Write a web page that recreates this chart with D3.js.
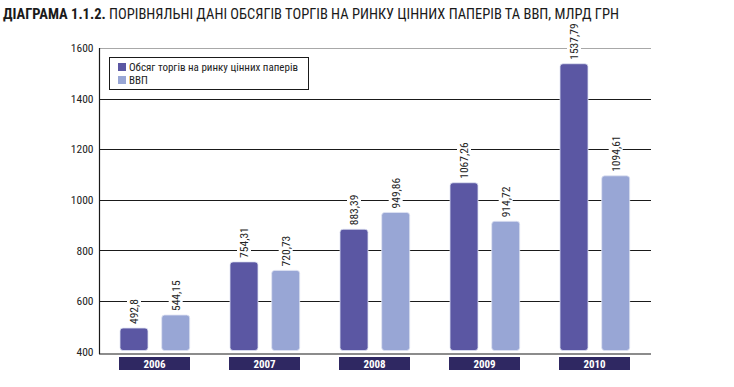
<!DOCTYPE html>
<html><head><meta charset="utf-8">
<script src="https://cdn.jsdelivr.net/npm/d3@7"></script>
<style>body{margin:0;background:#fff}svg{display:block}</style>
</head><body>
<svg id="c" width="734" height="387"></svg>
<script>
const years = ["2006","2007","2008","2009","2010"];
const seriesNames = ["Обсяг торгів на ринку цінних паперів","ВВП"];
const trading = [492.8, 754.31, 883.39, 1067.26, 1537.79];
const gdp = [544.15, 720.73, 949.86, 914.72, 1094.61];
const tradingLabels = ["492,8","754,31","883,39","1067,26","1537,79"];
const gdpLabels = ["544,15","720,73","949,86","914,72","1094,61"];
const yTicks = [400,600,800,1000,1200,1400,1600];
const colors = ["#5b57a3","#98a6d5"];
const FONT = "'Liberation Sans Narrow','Roboto Condensed','Liberation Sans',Arial,sans-serif";

const svg = d3.select("#c");
const y = d3.scaleLinear().domain([400,1600]).range([351.5,48]);
const x0 = d3.scaleBand().domain(years).range([100,650]).paddingInner(0).paddingOuter(0);
// group layout: each 110 wide, bars at offset 20 & 62, width 28
const barW = 28;
const offs = [20, 61.7];

// title
const t = svg.append("text").attr("x",3).attr("y",19).attr("font-family",FONT).attr("font-size",14.5).attr("fill","#1a1a1a");
t.append("tspan").attr("font-weight","bold").text("ДІАГРАМА 1.1.2. ");
t.append("tspan").text("ПОРІВНЯЛЬНІ ДАНІ ОБСЯГІВ ТОРГІВ НА РИНКУ ЦІННИХ ПАПЕРІВ ТА ВВП, МЛРД ГРН");

// gridlines
svg.append("g").selectAll("line").data(yTicks.filter(d=>d>400)).join("line")
  .attr("x1",100).attr("x2",651).attr("y1",d=>Math.round(y(d))+0.5).attr("y2",d=>Math.round(y(d))+0.5)
  .attr("stroke",d=>d===1600?"#a8a8a8":"#1a1a1a").attr("stroke-width",1.2);

// y axis
const ax = svg.append("g").attr("transform","translate(99.5,0)")
  .call(d3.axisLeft(y).tickValues(yTicks).tickSize(0).tickPadding(6).tickFormat(d3.format("d")));
ax.select(".domain").remove();
ax.selectAll("text").attr("font-family",FONT).attr("font-size",11.5).attr("fill","#222");
svg.append("line").attr("x1",99.5).attr("x2",99.5).attr("y1",48).attr("y2",354).attr("stroke","#1a1a1a").attr("stroke-width",1.2);
svg.append("line").attr("x1",99).attr("x2",651).attr("y1",354).attr("y2",354).attr("stroke","#1a1a1a").attr("stroke-width",1.2);

// legend
const lg = svg.append("g");
lg.append("rect").attr("x",109.5).attr("y",57.5).attr("width",199).attr("height",32).attr("fill","#fff").attr("stroke","#1a1a1a").attr("stroke-width",1);
seriesNames.forEach((n,i)=>{
  lg.append("rect").attr("x",118).attr("y",63+i*13).attr("width",8).attr("height",8).attr("fill",colors[i]);
  lg.append("text").attr("x",129).attr("y",71+i*13).attr("font-family",FONT).attr("font-size",11).attr("fill","#222").text(n);
});

// bars
const data = [];
years.forEach((yr,i)=>{
  data.push({yr, s:0, v:trading[i], lab:tradingLabels[i]});
  data.push({yr, s:1, v:gdp[i], lab:gdpLabels[i]});
});
const g = svg.append("g");
g.selectAll("rect.bar").data(data).join("rect").attr("class","bar")
  .attr("x",d=>x0(d.yr)+offs[d.s]).attr("width",barW)
  .attr("y",d=>y(d.v)).attr("height",d=>y(400)-1-y(d.v))
  .attr("rx",3).attr("fill",d=>colors[d.s]).attr("stroke","#dfe3f2").attr("stroke-width",0.8);

// value labels
data.forEach(d=>{
  const cx = x0(d.yr)+offs[d.s]+barW/2;
  const yb = y(d.v)-4;
  const lbl = g.append("g").attr("transform",`translate(${cx+4},${yb}) rotate(-90)`);
  const tx = lbl.append("text").attr("x",0).attr("y",0).attr("font-family",FONT).attr("font-size",11.5).attr("fill","#222").text(d.lab);
  const bb = tx.node().getBBox();
  lbl.insert("rect","text").attr("x",bb.x-2).attr("y",bb.y).attr("width",bb.width+4).attr("height",bb.height).attr("fill","#fff");
});

// year boxes
years.forEach(yr=>{
  svg.append("rect").attr("x",x0(yr)+19).attr("y",357).attr("width",71).attr("height",13).attr("fill","#2f2862");
  svg.append("text").attr("x",x0(yr)+54.5).attr("y",367.5).attr("text-anchor","middle").attr("font-family",FONT)
    .attr("font-weight","bold").attr("font-size",11).attr("fill","#fff").text(yr);
});
</script>
</body></html>
